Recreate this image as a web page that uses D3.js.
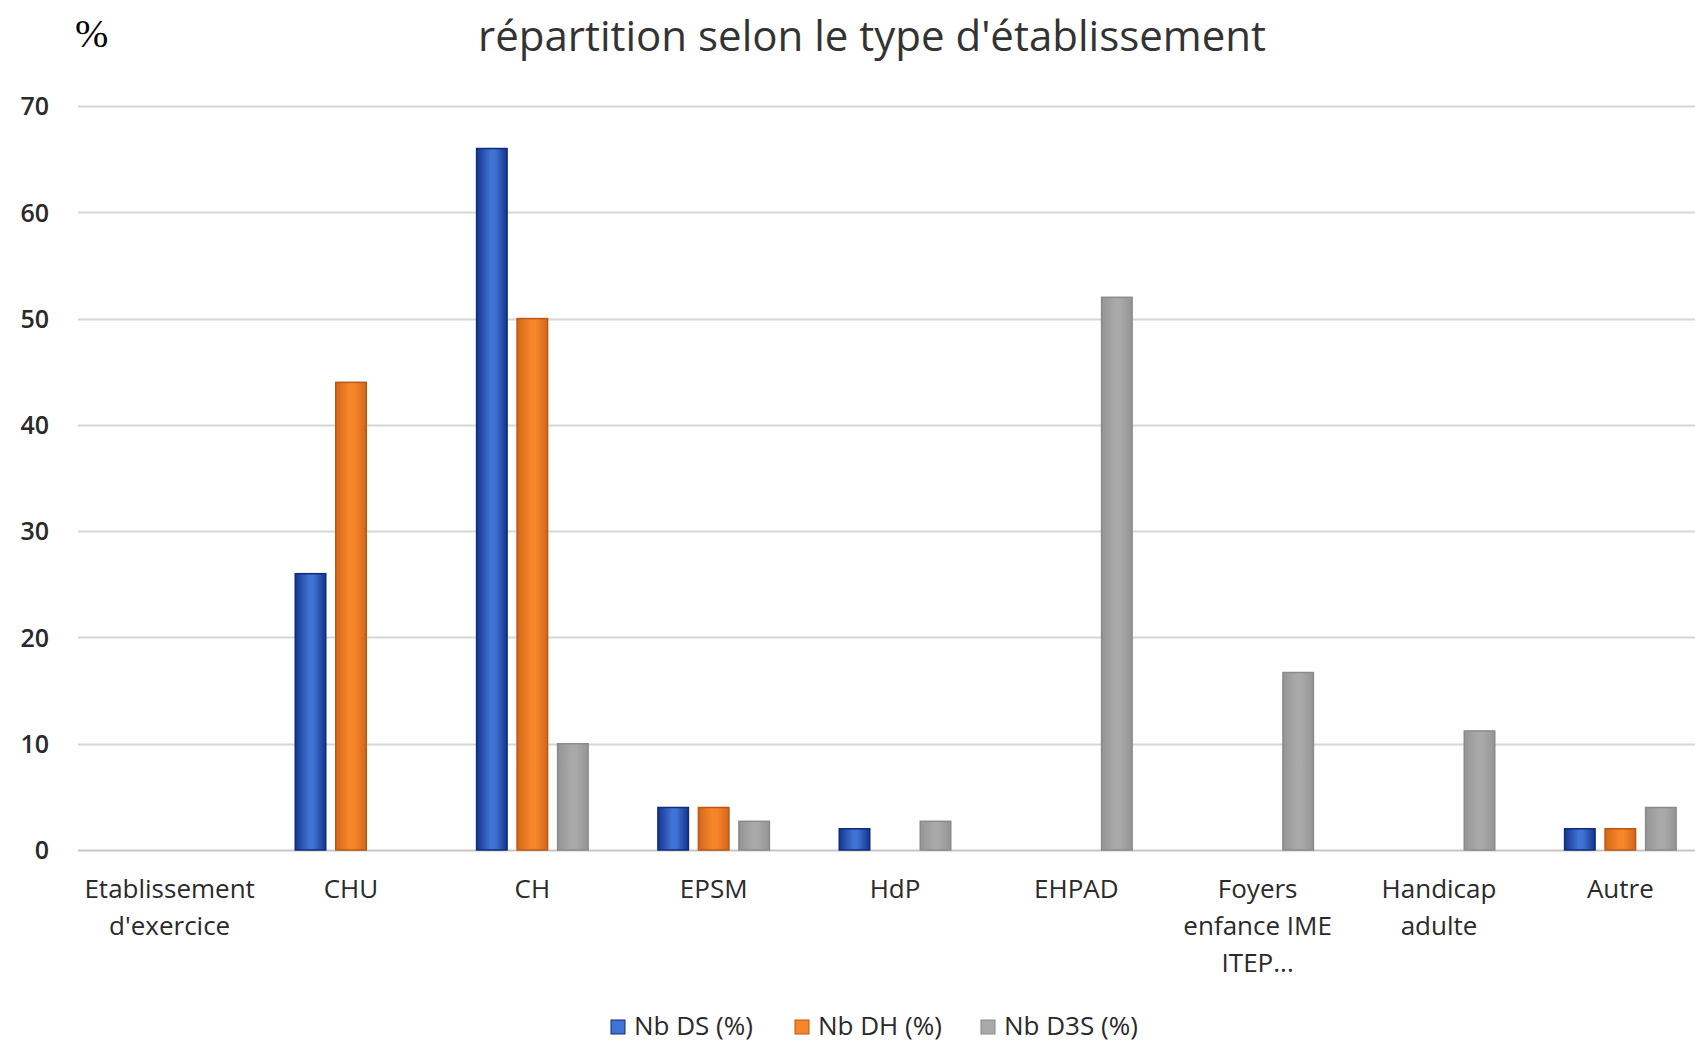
<!DOCTYPE html>
<html>
<head>
<meta charset="utf-8">
<script src="https://cdn.jsdelivr.net/npm/d3@7"></script>
<style>
  html, body { margin: 0; padding: 0; background: #ffffff; }
  svg { display: block; }
</style>
</head>
<body>
<svg id="chart" width="1695" height="1045"></svg>
<script>
// Établissements (catégories), avec retours à la ligne des libellés
const categories = [
  ["Etablissement", "d'exercice"],
  ["CHU"],
  ["CH"],
  ["EPSM"],
  ["HdP"],
  ["EHPAD"],
  ["Foyers", "enfance IME", "ITEP..."],
  ["Handicap", "adulte"],
  ["Autre"]
];

// Séries (en %)
const seriesNames = ["Nb DS (%)", "Nb DH (%)", "Nb D3S (%)"];
const nbDS  = [0, 26, 66, 4, 2, 0, 0, 0, 2];
const nbDH  = [0, 44, 50, 4, 0, 0, 0, 0, 2];
const nbD3S = [0, 0, 10, 2.7, 2.7, 52, 16.7, 11.2, 4];

const yTicks = [0, 10, 20, 30, 40, 50, 60, 70];

const titleText = "répartition selon le type d'établissement";
const unitText = "%";

const seriesValues = [nbDS, nbDH, nbD3S];
const colors = [
  { edge: "#15358f", mid: "#3f73d4", stroke: "#0f2b7a" },
  { edge: "#d4661a", mid: "#f7862a", stroke: "#b95714" },
  { edge: "#959595", mid: "#a9a9a9", stroke: "#8a8a8a" }
];

const textColor = "#2a2a2a";

const svg = d3.select("#chart");
const W = 1695, H = 1045;
const plot = { left: 79, right: 1711, top: 106, bottom: 850 };

const x0 = d3.scaleBand()
  .domain(d3.range(categories.length))
  .range([plot.left, plot.right])
  .padding(0);

const x1 = d3.scaleBand()
  .domain(d3.range(seriesNames.length))
  .range([0, x0.bandwidth()])
  .paddingInner(0.247)
  .paddingOuter(0.862);

const y = d3.scaleLinear().domain([0, 70]).range([plot.bottom, plot.top]);

// Dégradés horizontaux des barres
const defs = svg.append("defs");
colors.forEach((c, i) => {
  const g = defs.append("linearGradient")
    .attr("id", "grad" + i)
    .attr("x1", "0%").attr("x2", "100%").attr("y1", "0%").attr("y2", "0%");
  g.append("stop").attr("offset", "0%").attr("stop-color", c.edge);
  g.append("stop").attr("offset", "45%").attr("stop-color", c.mid);
  g.append("stop").attr("offset", "60%").attr("stop-color", c.mid);
  g.append("stop").attr("offset", "100%").attr("stop-color", c.edge);
});

// Quadrillage horizontal
svg.append("g")
  .selectAll("line")
  .data(yTicks)
  .join("line")
  .attr("x1", plot.left - 1)
  .attr("x2", W)
  .attr("y1", d => Math.round(y(d)) + 0.5)
  .attr("y2", d => Math.round(y(d)) + 0.5)
  .attr("stroke", d => d === 0 ? "#c6c6c6" : "#d6d6d6")
  .attr("stroke-width", 2);

// Axe des ordonnées (libellés seulement)
const yAxis = d3.axisLeft(y).tickValues(yTicks).tickSize(0).tickPadding(0);
const yg = svg.append("g")
  .attr("transform", "translate(49,0)")
  .call(yAxis);
yg.select(".domain").remove();
yg.selectAll("text")
  .attr("font-family", "'Open Sans', sans-serif")
  .attr("font-size", 25)
  .attr("font-weight", 600)
  .attr("fill", textColor)
  .attr("dy", "0.35em");

// Barres
const groups = svg.append("g")
  .selectAll("g")
  .data(categories.map((c, i) => i))
  .join("g")
  .attr("transform", i => `translate(${x0(i)},0)`);

groups.selectAll("rect")
  .data(i => seriesValues.map((vals, s) => ({ s, v: vals[i] })).filter(d => d.v > 0))
  .join("rect")
  .attr("x", d => x1(d.s))
  .attr("width", x1.bandwidth())
  .attr("y", d => y(d.v))
  .attr("height", d => y(0) - y(d.v))
  .attr("fill", d => `url(#grad${d.s})`)
  .attr("stroke", d => colors[d.s].stroke)
  .attr("stroke-width", 1.5);

// Libellés des catégories
const xg = svg.append("g");
categories.forEach((lines, i) => {
  const cx = x0(i) + x0.bandwidth() / 2;
  const t = xg.append("text")
    .attr("x", cx)
    .attr("y", 898)
    .attr("text-anchor", "middle")
    .attr("font-family", "'Open Sans', sans-serif")
    .attr("font-size", 26)
    .attr("fill", textColor);
  lines.forEach((ln, k) => {
    t.append("tspan")
      .attr("x", cx)
      .attr("dy", k === 0 ? 0 : 37)
      .text(ln);
  });
});

// Titre
svg.append("text")
  .attr("x", 872)
  .attr("y", 51)
  .attr("text-anchor", "middle")
  .attr("font-family", "'Open Sans', sans-serif")
  .attr("font-size", 42)
  .attr("fill", "#333333")
  .text(titleText);

// Unité
svg.append("text")
  .attr("x", 75)
  .attr("y", 47)
  .attr("font-family", "'Liberation Serif', 'Times New Roman', serif")
  .attr("font-size", 40)
  .attr("fill", "#000")
  .text(unitText);

// Légende
const legendX = [611, 795, 981];
const legend = svg.append("g");
seriesNames.forEach((name, s) => {
  legend.append("rect")
    .attr("x", legendX[s])
    .attr("y", 1020)
    .attr("width", 14)
    .attr("height", 14)
    .attr("fill", colors[s].mid)
    .attr("stroke", colors[s].stroke)
    .attr("stroke-width", 1);
  legend.append("text")
    .attr("x", legendX[s] + 23)
    .attr("y", 1035)
    .attr("font-family", "'Open Sans', sans-serif")
    .attr("font-size", 26)
    .attr("fill", textColor)
    .text(name);
});
</script>
</body>
</html>
